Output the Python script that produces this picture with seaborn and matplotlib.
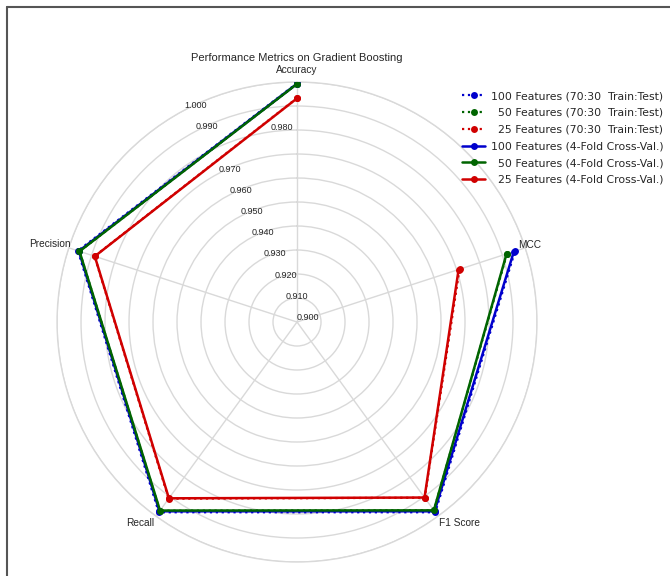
import numpy as np
import matplotlib
matplotlib.use("Agg")
import matplotlib.pyplot as plt
from matplotlib.lines import Line2D
import seaborn as sns

categories = ["Accuracy", "Precision", "Recall", "F1 Score", "MCC"]

acc_100_split = [0.9995, 0.9960, 0.9980, 0.9980, 0.9955]
acc_50_split = [0.9992, 0.9953, 0.9972, 0.9970, 0.9920]
acc_25_split = [0.9933, 0.9887, 0.9910, 0.9905, 0.9712]
acc_100_cv = [0.9993, 0.9956, 0.9975, 0.9975, 0.9950]
acc_50_cv = [0.9992, 0.9953, 0.9971, 0.9970, 0.9918]
acc_25_cv = [0.9932, 0.9886, 0.9908, 0.9904, 0.9708]

series_labels = [
    "100 Features (70:30  Train:Test)",
    "  50 Features (70:30  Train:Test)",
    "  25 Features (70:30  Train:Test)",
    "100 Features (4-Fold Cross-Val.)",
    "  50 Features (4-Fold Cross-Val.)",
    "  25 Features (4-Fold Cross-Val.)",
]
r_ticks = [0.90, 0.91, 0.92, 0.93, 0.94, 0.95, 0.96, 0.97, 0.98, 0.99, 1.00]

sns.set_theme(style="white")
plt.rcParams["font.family"] = ["Liberation Sans", "DejaVu Sans"]

fig = plt.figure(figsize=(6.7, 5.76), dpi=100)
ax = fig.add_axes([0.0851, 0.0243, 0.7164, 0.8333], projection="polar")
ax.set_theta_offset(np.pi / 2)

angles = np.linspace(0, 2 * np.pi, len(categories), endpoint=False).tolist()
angles_closed = angles + angles[:1]

all_series = [acc_100_split, acc_50_split, acc_25_split, acc_100_cv, acc_50_cv, acc_25_cv]
colors = ["#0000cc", "#006400", "#d00000", "#0000cc", "#006400", "#d00000"]
styles = [":", ":", ":", "-", "-", "-"]
widths = [1.6, 1.6, 1.6, 1.8, 1.8, 1.8]

for vals, col, ls, lw, lab in zip(all_series, colors, styles, widths, series_labels):
    sns.lineplot(x=angles_closed, y=vals + vals[:1], ax=ax, sort=False,
                 color=col, linestyle=ls, linewidth=lw, marker="o",
                 markersize=5, markeredgewidth=0, label=lab)

ax.set_ylim(0.90, 1.00)
ax.set_rlabel_position(28)
ax.set_yticks(r_ticks)
ax.set_yticklabels(["%.3f" % t if abs(t - 0.98) > 1e-9 else "" for t in r_ticks], fontsize=6.5)
ax.text(np.deg2rad(4.4), 0.9813, "0.980", fontsize=6.5, ha="center", va="center")
ax.grid(True, color="#d9d9d9", linewidth=1)
ax.spines["polar"].set_color("#d9d9d9")
ax.spines["polar"].set_linewidth(1)
ax.spines["polar"].set_zorder(0.4)
ax.set_xticks(angles)
ax.set_xticklabels([])
ax.set_xlabel("")
ax.set_ylabel("")

# category names placed around the outer ring
label_r = [1.005, 0.999, 1.001, 1.001, 0.997]
label_ha = ["center", "right", "right", "left", "left"]
label_va = ["center", "bottom", "top", "top", "bottom"]
for ang, name, r, ha, va in zip(angles, categories, label_r, label_ha, label_va):
    ax.text(ang, r, name, fontsize=7.3, ha=ha, va=va, clip_on=False)

fig.text(297 / 670, 1 - 58 / 576, "Performance Metrics on Gradient Boosting",
         fontsize=8, ha="center", va="center")

handles, labels = ax.get_legend_handles_labels()
ax.get_legend().remove()
fig.legend(handles, labels, loc="upper right", bbox_to_anchor=(1.0, 0.853),
           frameon=False, handlelength=2.2, labelspacing=0.62, handletextpad=0.5,
           borderaxespad=0.2, prop={"family": "DejaVu Sans", "size": 7.8})

fig.add_artist(Line2D([7 / 670, 1], [1 - 7 / 576, 1 - 7 / 576], transform=fig.transFigure,
                      color="#555555", linewidth=1.5))
fig.add_artist(Line2D([7 / 670, 7 / 670], [0, 1 - 7 / 576], transform=fig.transFigure,
                      color="#555555", linewidth=1.5))

fig.savefig("out.png", dpi=100)
